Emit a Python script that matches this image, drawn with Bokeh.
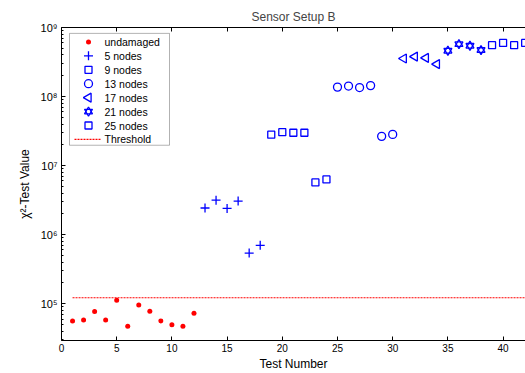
import math
import numpy as np
from bokeh.plotting import figure
from bokeh.models import (LinearAxis, FixedTicker, CustomJSTickFormatter, Range1d,
                          BoxAnnotation, Label)
from bokeh.embed import file_html
from bokeh.resources import INLINE

# ---- data ----
undamaged_x = [1, 2, 3, 4, 5, 6, 7, 8, 9, 10, 11, 12]
undamaged_y = [5.6e4, 5.8e4, 7.7e4, 5.8e4, 1.12e5, 4.7e4, 9.6e4, 7.8e4, 5.6e4, 4.95e4, 4.7e4, 7.3e4]

n5_x = [13, 14, 15, 16, 17, 18]
n5_y = [2.43e6, 3.16e6, 2.40e6, 3.06e6, 5.4e5, 7.0e5]

n9_x = [19, 20, 21, 22, 23, 24]
n9_y = [2.80e7, 3.05e7, 2.99e7, 2.99e7, 5.7e6, 6.3e6]

n13_x = [25, 26, 27, 28, 29, 30]
n13_y = [1.37e8, 1.42e8, 1.35e8, 1.44e8, 2.65e7, 2.83e7]

n17_x = [31, 32, 33, 34]
n17_y = [3.55e8, 3.79e8, 3.63e8, 2.95e8]

n21_x = [35, 36, 37, 38]
n21_y = [4.61e8, 5.74e8, 5.43e8, 4.71e8]

n25_x = [39, 40, 41, 42]
n25_y = [5.55e8, 5.98e8, 5.55e8, 5.98e8]

threshold_x = [1, 44]
threshold_y = [1.22e5, 1.22e5]

x_ticks = [0, 5, 10, 15, 20, 25, 30, 35, 40]
y_ticks = [1e5, 1e6, 1e7, 1e8, 1e9]
legend_labels = ["undamaged", "5 nodes", "9 nodes", "13 nodes", "17 nodes",
                 "21 nodes", "25 nodes", "Threshold"]

BLUE = "#0000ff"
RED = "#ff0000"
FONT = "Liberation Sans"

X0, X1 = 0, 42.03
Y0, Y1 = 2.93e4, 1e9
W, H = 525, 373
FL, FT, FB = 61, 27, 27  # frame borders (px)

p = figure(width=W, height=H, output_backend="svg", toolbar_location=None,
           y_axis_type="log", x_range=Range1d(X0, X1), y_range=Range1d(Y0, Y1),
           min_border_left=FL, min_border_right=0, min_border_top=FT, min_border_bottom=FB,
           title="Sensor Setup B")
p.outline_line_color = None
p.grid.visible = False
p.background_fill_color = "white"
p.border_fill_color = "white"

p.title.text_font = FONT
p.title.text_font_size = "12px"
p.title.text_font_style = "normal"
p.title.align = "center"
p.title.offset = 4
p.title.standoff = 7

xa = p.xaxis[0]
xa.ticker = FixedTicker(ticks=x_ticks)
xa.axis_label = "Test Number"
ya = p.yaxis[0]
minor = [k * 10.0 ** e for e in range(4, 9) for k in range(2, 10)]
ya.ticker = FixedTicker(ticks=y_ticks, minor_ticks=minor)
ya.formatter = CustomJSTickFormatter(code="""
const sup = {"0":"\u2070","1":"\u00b9","2":"\u00b2","3":"\u00b3","4":"\u2074","5":"\u2075","6":"\u2076","7":"\u2077","8":"\u2078","9":"\u2079"};
const e = String(Math.round(Math.log10(tick)));
let s = "";
for (const c of e) s += sup[c];
return "10" + s;
""")
ya.axis_label = "\u03c7\u00b2-Test Value"

for ax in (xa, ya):
    ax.major_label_text_font = FONT
    ax.major_label_text_font_size = "10px"
    ax.major_label_text_color = "black"
    ax.axis_label_text_font = FONT
    ax.axis_label_text_font_size = "12px"
    ax.axis_label_text_font_style = "normal"
    ax.axis_label_text_color = "black"
    ax.major_tick_in = 4
    ax.major_tick_out = 0
    ax.minor_tick_in = 2
    ax.minor_tick_out = 0
    ax.axis_line_color = "black"
    ax.major_tick_line_color = "black"
    ax.minor_tick_line_color = "black"
xa.major_label_standoff = 3
xa.axis_label_standoff = 2
xa.minor_tick_line_color = None
ya.major_label_standoff = 4
ya.major_label_text_font_size = "11px"
ya.axis_label_standoff = 6

top = LinearAxis(ticker=FixedTicker(ticks=x_ticks),
                 formatter=CustomJSTickFormatter(code='return "";'),
                 major_tick_in=4, major_tick_out=0, minor_tick_line_color=None,
                 major_label_standoff=0, axis_line_color="black")
p.add_layout(top, "above")

# ---- data marks ----
LW = 1.3
p.scatter(undamaged_x, undamaged_y, marker="circle", size=5, fill_color=RED, line_color=None)
p.scatter(n5_x, n5_y, marker="cross", size=9, line_color=BLUE, line_width=LW)
p.scatter(n9_x, n9_y, marker="square", size=7, line_color=BLUE, fill_color=None, line_width=LW)
p.scatter(n13_x, n13_y, marker="circle", size=8, line_color=BLUE, fill_color=None, line_width=LW)
p.scatter(n17_x, n17_y, marker="triangle", size=9, angle=np.pi / 2,
          line_color=BLUE, fill_color=None, line_width=LW)
p.scatter(n21_x, n21_y, marker="triangle", size=8, line_color=BLUE, fill_color=None, line_width=LW)
p.scatter(n21_x, n21_y, marker="inverted_triangle", size=8, line_color=BLUE, fill_color=None, line_width=LW)
p.scatter(n25_x, n25_y, marker="square", size=7, line_color=BLUE, fill_color=None, line_width=LW)
p.line(threshold_x, threshold_y, line_color=RED, line_dash="2 1", line_width=1.2)

# ---- legend (MATLAB style), placed in pixels and mapped through the scales ----
FR = W
FBpx = H - FB
def dx(sx):
    return X0 + (sx - FL) / (FR - FL) * (X1 - X0)

def dy(sy):
    l0, l1 = math.log10(Y0), math.log10(Y1)
    return 10 ** (l0 + (FBpx - sy) / (FBpx - FT) * (l1 - l0))

LEG_L, LEG_R, LEG_T, LEG_B = 69, 169, 33, 147
ROW0, ROW_H = 41.7, 14.2
GX, LX = 88, 104

p.add_layout(BoxAnnotation(left=dx(LEG_L), right=dx(LEG_R), top=dy(LEG_T), bottom=dy(LEG_B),
                           fill_color="white", fill_alpha=1, line_color="black",
                           line_width=1, level="underlay"))
rows = [dy(ROW0 + i * ROW_H) for i in range(len(legend_labels))]
gx = dx(GX)
p.scatter([gx], [rows[0]], marker="circle", size=5, fill_color=RED, line_color=None)
p.scatter([gx], [rows[1]], marker="cross", size=9, line_color=BLUE, line_width=LW)
p.scatter([gx], [rows[2]], marker="square", size=7, line_color=BLUE, fill_color=None, line_width=LW)
p.scatter([gx], [rows[3]], marker="circle", size=8, line_color=BLUE, fill_color=None, line_width=LW)
p.scatter([gx], [rows[4]], marker="triangle", size=9, angle=np.pi / 2,
          line_color=BLUE, fill_color=None, line_width=LW)
p.scatter([gx], [rows[5]], marker="triangle", size=8, line_color=BLUE, fill_color=None, line_width=LW)
p.scatter([gx], [rows[5]], marker="inverted_triangle", size=8, line_color=BLUE, fill_color=None, line_width=LW)
p.scatter([gx], [rows[6]], marker="square", size=7, line_color=BLUE, fill_color=None, line_width=LW)
p.line([dx(74), dx(100)], [rows[7], rows[7]], line_color=RED, line_dash="2 1", line_width=1.2)
for lab, ry in zip(legend_labels, rows):
    p.add_layout(Label(x=dx(LX), y=ry, text=lab, text_font=FONT, text_font_size="10.5px",
                       text_baseline="middle", text_align="left", text_color="black"))

open("out.html", "w").write(file_html(p, INLINE))
